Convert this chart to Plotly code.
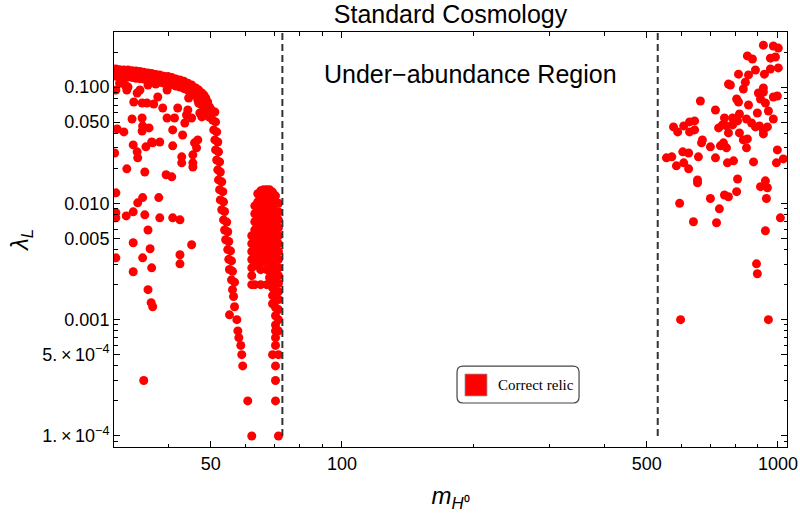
import plotly.graph_objects as go

# ---- data (m_H0 in GeV, lambda_L) ----
# upper band of the low-mass region
band_x = [30.3, 30.9, 31.6, 32.3, 33.0, 33.7, 34.4, 35.1, 35.9, 36.6, 37.4, 38.2, 39.0, 39.9,
          40.7, 41.6, 42.5, 43.4, 44.3, 45.2, 46.2, 46.9, 47.7, 48.2, 48.7, 49.2, 49.7,
          30.3, 30.9, 31.6, 32.3, 33.0, 33.7, 34.4, 35.1, 35.9, 36.6, 37.4, 38.2, 39.0, 39.9,
          40.7, 41.6, 42.5, 43.4, 44.3, 45.2, 46.2, 46.9, 47.7, 48.2, 48.7, 49.2,
          46.7, 47.4, 48.2, 49.0, 49.5, 30.9, 32.3, 37.4]
band_y = [0.143, 0.141, 0.140, 0.140, 0.138, 0.137, 0.136, 0.134, 0.132, 0.131, 0.128, 0.127, 0.124, 0.123,
          0.121, 0.117, 0.115, 0.112, 0.108, 0.104, 0.098, 0.0942, 0.0888, 0.0854, 0.0805, 0.0743, 0.0673,
          0.124, 0.123, 0.122, 0.122, 0.121, 0.119, 0.118, 0.117, 0.115, 0.114, 0.112, 0.110, 0.108, 0.107,
          0.105, 0.102, 0.100, 0.097, 0.0942, 0.0906, 0.0854, 0.0821, 0.0774, 0.0743, 0.0701, 0.0635,
          0.0774, 0.0715, 0.066, 0.061, 0.0553, 0.108, 0.100, 0.106]

# steep fall just above 50 GeV
drop_x = [50.2, 50.5, 50.8, 51.1, 51.3, 51.6, 51.9, 52.1, 52.4, 52.6, 53.0, 53.5, 53.8, 54.1, 54.7,
          55.0, 55.2, 55.8, 56.1, 56.4, 56.7, 55.2, 57.4, 57.7, 58.0, 58.6, 58.9, 59.2, 60.8, 62.1,
          51.1, 51.3, 51.6, 51.9, 52.1, 52.4, 52.6, 53.0, 53.3, 53.5, 53.8, 54.4, 54.7, 55.0, 55.5,
          55.8, 56.1, 56.7]
drop_y = [0.0635, 0.0521, 0.0428, 0.0351, 0.0288, 0.0236, 0.0194, 0.0159, 0.0131, 0.0107, 0.0088, 0.0072,
          0.0059, 0.00486, 0.0040, 0.0033, 0.0027, 0.0022, 0.00181, 0.00158, 0.00129, 0.0011, 0.001,
          0.0008, 0.0007, 0.0006, 0.0005, 0.0004, 0.0002, 0.0001,
          0.061, 0.0501, 0.0411, 0.0337, 0.0277, 0.0227, 0.0186, 0.0153, 0.0126, 0.0103, 0.0085, 0.0069,
          0.0057, 0.0047, 0.0039, 0.0032, 0.0026, 0.0021]

# Higgs resonance region (62 - 72 GeV)
peak_x = [62.1, 62.1, 62.1, 62.1, 62.1, 62.1, 62.1,
          63.1, 63.1, 63.1, 63.1, 63.1, 63.1, 63.1, 63.1, 63.1,
          64.1, 64.1, 64.1, 64.1, 64.1, 64.1, 64.1, 64.1, 64.1, 64.1,
          65.1, 65.1, 65.1, 65.1, 65.1, 65.1, 65.1, 65.1, 65.1, 65.1, 65.1, 65.1,
          66.1, 66.1, 66.1, 66.1, 66.1, 66.1, 66.1, 66.1, 66.1, 66.1,
          67.2, 67.2, 67.2, 67.2, 67.2, 67.2, 67.2, 67.2, 67.2, 67.2, 67.2, 67.2,
          68.2, 68.2, 68.2, 68.2, 68.2, 68.2, 68.2, 68.2, 68.2, 68.2, 68.2, 68.2,
          69.3, 69.3, 69.3, 69.3, 69.3, 69.3, 69.3, 69.3, 69.3, 69.3, 69.3, 69.3, 69.3, 69.3, 69.3, 69.3,
          70.4, 70.4, 70.4, 70.4, 70.4, 70.4, 70.4, 70.4, 70.4, 70.4, 70.4, 70.4, 70.4, 70.4, 70.4, 70.4,
          70.4, 70.4, 70.4, 70.4, 70.4, 70.4, 70.4,
          71.5, 71.5, 71.5, 71.5, 71.5, 71.5, 71.5, 71.5, 71.5, 71.5, 71.5, 71.5, 71.5, 71.5, 71.5, 71.5,
          71.5, 71.5]
peak_y = [0.00526, 0.0045, 0.00385, 0.00329, 0.00279, 0.00239, 0.002,
          0.00952, 0.00813, 0.00694, 0.00592, 0.00506, 0.00432, 0.0037, 0.00316, 0.002,
          0.0121, 0.0103, 0.00879, 0.0075, 0.00641, 0.00547, 0.00468, 0.004, 0.0034, 0.00292,
          0.0128, 0.0112, 0.00952, 0.00813, 0.00694, 0.00592, 0.00506, 0.00432, 0.0037, 0.00316, 0.00269, 0.002,
          0.0131, 0.0112, 0.00952, 0.00813, 0.00694, 0.00592, 0.00506, 0.00432, 0.0037, 0.00316,
          0.0131, 0.0112, 0.00952, 0.00813, 0.00694, 0.00592, 0.00506, 0.00432, 0.0037, 0.00316, 0.00269, 0.002,
          0.0131, 0.0112, 0.00952, 0.00813, 0.00694, 0.00592, 0.00506, 0.00432, 0.0037, 0.00316, 0.00269, 0.0023,
          0.0125, 0.0107, 0.00915, 0.00781, 0.00667, 0.00569, 0.00486, 0.00416, 0.00355, 0.00304, 0.00258,
          0.0022, 0.00188, 0.00161, 0.00137, 0.0005,
          0.0116, 0.0100, 0.00845, 0.00721, 0.00616, 0.00526, 0.0045, 0.00385, 0.00329, 0.00279, 0.00239,
          0.00205, 0.00174, 0.00149, 0.00127, 0.00108, 0.0009, 0.0008, 0.0007, 0.0006, 0.0004, 0.0003, 0.0002,
          0.0100, 0.00845, 0.00721, 0.00616, 0.00526, 0.0045, 0.00385, 0.00329, 0.00279, 0.00239, 0.00205,
          0.00174, 0.00149, 0.00122, 0.001, 0.0008, 0.0005, 0.0001]

# scattered points below the band (m < 50 GeV)
low_x = [30.3, 30.5, 30.1, 30.3, 30.3, 30.3, 31.8, 32.1, 31.6, 32.1, 32.0, 33.0, 33.2, 33.2, 33.3,
         33.9, 33.9, 34.0, 34.0, 34.4, 34.8, 34.8, 34.9, 34.8, 34.9, 35.3, 35.3, 35.5, 35.7, 35.9,
         36.1, 36.6, 36.8, 37.0, 37.8, 38.0, 38.2, 38.8, 38.2, 39.5, 39.7, 39.7, 40.7, 40.9, 40.9,
         40.9, 41.3, 42.0, 42.5, 42.9, 42.9, 43.1, 43.6, 44.0, 44.3, 44.5, 45.2, 45.5, 45.5, 45.9,
         46.4, 46.7, 46.9, 47.2, 47.7, 47.9,
         30.3, 33.2, 33.2, 34.9, 35.9, 35.9, 36.3, 36.6, 36.5, 36.8, 35.1, 42.5, 42.5, 45.2, 45.5]
low_y = [0.0942, 0.0436, 0.0271, 0.0123, 0.00829, 0.0075, 0.104, 0.0942, 0.0411, 0.0198, 0.0078,
         0.0531, 0.0318, 0.00845, 0.0743, 0.0888, 0.0277, 0.0246, 0.0101, 0.0942, 0.0729, 0.0542,
         0.0463, 0.0419, 0.0112, 0.00796, 0.0186, 0.0306, 0.0729, 0.104, 0.0445, 0.0337, 0.0331,
         0.0715, 0.0821, 0.0112, 0.0337, 0.066, 0.0075, 0.0176, 0.0542, 0.0942, 0.0169, 0.0075,
         0.0428, 0.0312, 0.0542, 0.066, 0.00721, 0.0251, 0.0223, 0.0387, 0.0491, 0.0575, 0.0635,
         0.0805, 0.0542, 0.0223, 0.0261, 0.0331, 0.030, 0.0351, 0.0729, 0.0598, 0.0553, 0.0598,
         0.0034, 0.00458, 0.00258, 0.0034, 0.00181, 0.0059, 0.00407, 0.00279, 0.0014, 0.00129,
         0.0003, 0.00361, 0.00302, 0.0044, 0.0205]

# high-mass region (m > 530 GeV)
heavy_x = [926, 976, 1002, 851, 874, 961, 987, 888, 931, 961,
           1002, 812, 856, 842, 770, 778, 833, 926, 902, 926,
           912, 804, 812, 936, 664, 856, 976, 997, 951, 719,
           897, 816, 754, 787, 847, 976, 576, 608, 627, 644,
           589, 627, 644, 731, 746, 762, 787, 808, 870, 888,
           907, 926, 946, 926, 770, 816, 671, 668, 700, 738,
           750, 762, 833, 851, 847, 605, 624, 997, 555, 571,
           657, 719, 879, 585, 608, 624, 766, 791, 992, 1029,
           654, 654, 808, 912, 936, 946, 804, 754, 770, 700,
           941, 595, 734, 1013, 640, 723, 936, 893, 897, 598,
           951]
heavy_y = [0.229, 0.225, 0.216, 0.185, 0.174, 0.177, 0.181, 0.140, 0.129, 0.143,
           0.146, 0.129, 0.127, 0.110, 0.106, 0.104, 0.0961, 0.098, 0.0888, 0.0906,
           0.0789, 0.0789, 0.0743, 0.0729, 0.0758, 0.0701, 0.0821, 0.0837, 0.0622, 0.0635,
           0.0598, 0.0586, 0.0542, 0.0542, 0.0531, 0.0531, 0.0454, 0.0463, 0.0501, 0.0511,
           0.0411, 0.0411, 0.0428, 0.0445, 0.0472, 0.0463, 0.0472, 0.0511, 0.0491, 0.0454,
           0.0463, 0.0428, 0.0454, 0.0395, 0.0403, 0.0403, 0.0351, 0.0331, 0.0306, 0.0312,
           0.0331, 0.0300, 0.0351, 0.0358, 0.0300, 0.0277, 0.0271, 0.0288, 0.0246, 0.0251,
           0.0251, 0.0246, 0.0227, 0.0210, 0.0223, 0.0198, 0.0223, 0.0232, 0.0223, 0.0241,
           0.0159, 0.0150, 0.0162, 0.0139, 0.0156, 0.0136, 0.0126, 0.0118, 0.0114, 0.0110,
           0.0110, 0.0100, 0.00897, 0.0075, 0.00694, 0.00681, 0.00581, 0.00302, 0.00248, 0.001,
           0.001]

# region boundaries (dashed lines)
boundary_m = [73, 530]
boundary_lam = [1e-4, 0.3]

x_ticks = [50, 100, 500, 1000]
x_minor = [40, 60, 70, 80, 90, 200, 300, 400, 600, 700, 800, 900]
y_ticks = [1e-4, 5e-4, 1e-3, 5e-3, 1e-2, 5e-2, 0.1]
y_labels = ["1.\u2009\u00d7\u200910<sup>\u22124</sup>", "5.\u2009\u00d7\u200910<sup>\u22124</sup>",
            "0.001", "0.005", "0.010", "0.050", "0.100"]
y_minor = [9e-5, 2e-4, 3e-4, 4e-4, 6e-4, 7e-4, 8e-4, 9e-4, 2e-3, 3e-3, 4e-3, 6e-3, 7e-3, 8e-3, 9e-3,
           0.02, 0.03, 0.04, 0.06, 0.07, 0.08, 0.09, 0.2]

SANS = "Liberation Sans, Arial, sans-serif"
RED = "#ff0000"

fig = go.Figure()
for xs, ys in [(band_x, band_y), (drop_x, drop_y), (peak_x, peak_y),
               (low_x, low_y), (heavy_x, heavy_y)]:
    fig.add_trace(go.Scatter(x=xs, y=ys, mode="markers", showlegend=False,
                             marker=dict(color=RED, size=9, line=dict(width=0)),
                             hoverinfo="skip"))

for m in boundary_m:
    fig.add_trace(go.Scatter(x=[m, m], y=boundary_lam, mode="lines", showlegend=False,
                             line=dict(color="#333333", width=2, dash="7px,4px"),
                             hoverinfo="skip"))

axis_common = dict(type="log", showline=True, linecolor="black", linewidth=1, mirror="allticks",
                   ticks="inside", ticklen=6, tickwidth=1, tickcolor="black",
                   showgrid=False, zeroline=False, automargin=False,
                   tickfont=dict(family=SANS, size=18, color="black"))

fig.update_xaxes(range=[1.4771, 3.0208], tickmode="array", tickvals=x_ticks,
                 ticktext=[str(v) for v in x_ticks],
                 minor=dict(tickmode="array", tickvals=x_minor, ticks="inside", ticklen=3.5,
                            tickcolor="black", showgrid=False),
                 title=dict(text="<i>m</i><sub><i>H</i>\u2070</sub>", standoff=14,
                            font=dict(family=SANS, size=24, color="black")),
                 **axis_common)
fig.update_yaxes(range=[-4.095, -0.527], tickmode="array", tickvals=y_ticks, ticktext=y_labels,
                 minor=dict(tickmode="array", tickvals=y_minor, ticks="inside", ticklen=3.5,
                            tickcolor="black", showgrid=False),
                 title=dict(text="<i>\u03bb</i><sub><i>L</i></sub>", standoff=6,
                            font=dict(family=SANS, size=24, color="black")),
                 **axis_common)

# legend box drawn by hand (rounded frame, red swatch, serif label)
bx0, bx1, by0, by1 = 0.5097, 0.691, 0.106, 0.195
rx, ry = 0.0089, 0.0145
legend_path = (f"M {bx0+rx},{by0} L {bx1-rx},{by0} Q {bx1},{by0} {bx1},{by0+ry} "
               f"L {bx1},{by1-ry} Q {bx1},{by1} {bx1-rx},{by1} L {bx0+rx},{by1} "
               f"Q {bx0},{by1} {bx0},{by1-ry} L {bx0},{by0+ry} Q {bx0},{by0} {bx0+rx},{by0} Z")
fig.add_shape(type="path", path=legend_path, xref="paper", yref="paper",
              line=dict(color="#444444", width=1.2), fillcolor="white", layer="above")
fig.add_shape(type="rect", xref="paper", yref="paper", x0=0.5215, x1=0.5542, y0=0.1229, y1=0.1759,
              fillcolor=RED, line=dict(color="#999999", width=0.8), layer="above")
fig.add_annotation(x=0.5676, y=0.1494, xref="paper", yref="paper", xanchor="left", yanchor="middle",
                   text="Correct relic", showarrow=False,
                   font=dict(family="Liberation Serif, Times New Roman, serif", size=15, color="black"))

fig.add_annotation(x=0.529, y=0.899, xref="paper", yref="paper", xanchor="center", yanchor="middle",
                   text="Under\u2212abundance Region", showarrow=False,
                   font=dict(family=SANS, size=25, color="black"))

fig.update_layout(
    width=800, height=513,
    margin=dict(l=114, r=13, t=32, b=66, autoexpand=False),
    paper_bgcolor="white", plot_bgcolor="white",
    title=dict(text="Standard Cosmology", x=0.5, xref="paper", y=0.972, yanchor="middle",
               font=dict(family=SANS, size=25, color="black")),
)

# drop the browser's default 8 px body margin so the figure sits at the window corner
fig.write_html("out.html", config={"displayModeBar": False},
               post_script="document.body.style.margin='0px';")
